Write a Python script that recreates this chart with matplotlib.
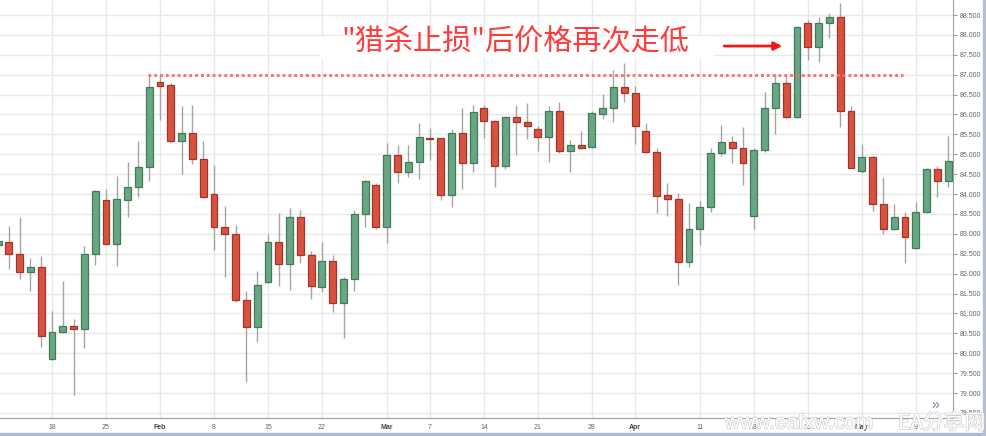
import matplotlib
matplotlib.use('Agg')
import matplotlib.pyplot as plt
import matplotlib.patheffects as pe
from matplotlib.patches import Rectangle
import numpy as np
import pandas as pd

plt.rcParams['font.family'] = ['Liberation Sans', 'Noto Sans CJK SC', 'DejaVu Sans']

# daily candles, 11 Jan - 12 May
dates = pd.bdate_range('2016-01-11', '2016-05-12')

opens = [82.72, 82.80, 82.49, 82.04, 82.16, 79.85, 80.53, 80.68, 80.62, 82.49,
         83.85, 82.75, 83.86, 84.18, 84.69, 86.82, 86.74, 85.34, 85.54, 84.89,
         84.00, 83.17, 82.99, 81.34, 80.65, 81.79, 82.80, 82.25, 83.43, 82.48,
         81.67, 82.32, 81.26, 81.86, 83.49, 84.24, 83.18, 84.99, 84.56, 84.80,
         85.42, 85.40, 83.98, 85.54, 84.77, 86.16, 85.84, 84.71, 85.93, 85.82,
         85.63, 85.44, 86.10, 85.08, 85.23, 85.19, 86.02, 86.16, 86.68, 86.55,
         85.58, 85.06, 83.97, 83.87, 82.29, 83.12, 83.68, 85.03, 85.30, 85.15,
         83.46, 85.10, 86.16, 86.78, 85.93, 88.31, 87.69, 88.31, 88.44, 86.10,
         84.59, 84.92, 83.75, 83.12, 83.43, 82.65, 83.55, 84.62, 84.33]
highs = [82.95, 83.21, 83.42, 82.39, 82.45, 81.07, 81.82, 80.86, 82.70, 84.10,
         84.13, 84.45, 84.80, 85.33, 86.99, 86.99, 86.78, 86.21, 86.23, 85.33,
         84.73, 83.70, 83.22, 81.57, 82.06, 83.00, 83.52, 83.66, 83.60, 82.57,
         82.80, 82.47, 81.92, 83.60, 84.35, 84.28, 85.28, 85.23, 85.24, 85.78,
         85.66, 85.42, 85.63, 86.16, 86.24, 86.24, 85.87, 85.96, 86.24, 86.28,
         85.71, 86.21, 86.31, 85.36, 85.59, 86.10, 86.52, 87.12, 87.30, 86.72,
         85.78, 85.15, 84.29, 84.04, 83.78, 83.83, 85.15, 85.74, 85.46, 85.69,
         85.15, 86.56, 87.03, 86.97, 88.23, 88.37, 88.46, 88.56, 88.81, 86.21,
         85.26, 84.96, 84.44, 83.75, 83.55, 83.80, 84.65, 84.71, 85.46]
lows = [82.60, 82.12, 81.86, 81.57, 80.17, 79.82, 80.50, 78.95, 80.14, 82.22,
        82.74, 82.19, 83.43, 83.93, 84.33, 85.86, 85.32, 84.50, 84.76, 83.90,
        82.59, 81.92, 81.28, 79.29, 80.29, 81.76, 81.70, 81.59, 82.28, 81.37,
        81.53, 81.05, 80.38, 81.57, 83.17, 83.12, 82.78, 84.27, 84.42, 84.38,
        84.86, 83.85, 83.67, 84.12, 84.55, 85.40, 84.19, 84.62, 84.98, 85.38,
        85.09, 84.81, 85.03, 84.56, 85.14, 85.17, 85.88, 85.82, 86.32, 85.26,
        85.04, 83.53, 83.45, 81.72, 82.18, 82.72, 83.56, 84.96, 84.77, 84.23,
        83.12, 85.05, 85.50, 85.92, 85.91, 87.37, 87.31, 87.91, 85.68, 84.65,
        84.54, 83.58, 83.00, 83.10, 82.26, 82.63, 83.52, 83.93, 84.19]
closes = [82.82, 82.49, 82.04, 82.16, 80.44, 80.53, 80.68, 80.62, 82.49, 84.08,
          82.75, 83.88, 84.18, 84.69, 86.68, 86.72, 85.34, 85.54, 84.88, 83.92,
          83.17, 82.99, 81.34, 80.65, 81.71, 82.80, 82.25, 83.43, 82.48, 81.69,
          82.32, 81.26, 81.86, 83.49, 84.33, 83.18, 84.99, 84.56, 84.80, 85.43,
          85.39, 83.98, 85.54, 84.77, 86.06, 85.84, 84.71, 85.93, 85.82, 85.71,
          85.44, 86.10, 85.08, 85.23, 85.16, 86.03, 86.16, 86.68, 86.55, 85.72,
          85.06, 83.96, 83.87, 82.29, 83.13, 83.68, 85.03, 85.30, 85.16, 84.79,
          85.10, 86.16, 86.78, 85.93, 88.21, 87.69, 88.31, 88.44, 86.10, 84.66,
          84.92, 83.75, 83.12, 83.43, 82.91, 83.55, 84.62, 84.33, 84.82]

tick_dates = ['2016-01-18', '2016-01-25', '2016-02-01', '2016-02-08', '2016-02-15',
              '2016-02-22', '2016-03-01', '2016-03-07', '2016-03-14', '2016-03-21',
              '2016-03-28', '2016-04-01', '2016-04-11', '2016-04-18', '2016-04-25',
              '2016-05-02', '2016-05-09']
tick_labels = ['18', '25', 'Feb', '8', '15', '22', 'Mar', '7', '14', '21', '28',
               'Apr', '11', '18', '25', 'May', '9']
months = ['Feb', 'Mar', 'Apr', 'May']

price_ticks = np.arange(78.5, 88.51, 0.5)
stop_level = 87.0
note = '"猎杀止损"后价格再次走低'

UP, UP_EDGE = '#6aa584', '#3f7d5a'
DOWN, DOWN_EDGE = '#d8533f', '#a3342a'


def main():
    o = np.array(opens)
    h = np.array(highs)
    l = np.array(lows)
    c = np.array(closes)
    x = np.arange(len(dates))
    up = c >= o

    fig = plt.figure(figsize=(9.86, 4.36), dpi=100)
    ax = fig.add_axes([0, 18 / 436, 953 / 986, 418 / 436])

    ax.vlines(x, l, h, color='#a5a5a5', lw=1, zorder=2)
    bottom = np.minimum(o, c)
    height = np.maximum(np.abs(c - o), 0.025)
    ax.bar(x[up], height[up], bottom=bottom[up], width=0.64,
           color=UP, edgecolor=UP_EDGE, lw=0.9, zorder=3)
    ax.bar(x[~up], height[~up], bottom=bottom[~up], width=0.64,
           color=DOWN, edgecolor=DOWN_EDGE, lw=0.9, zorder=3)

    ax.set_xlim(0.18, 88.45)
    ax.set_ylim(78.374, 88.877)

    # axes / grid
    pos = [dates.get_loc(pd.Timestamp(d)) for d in tick_dates]
    ax.set_xticks(pos)
    ax.set_xticklabels(tick_labels)
    for t in ax.get_xticklabels():
        if t.get_text() in months:
            t.set_fontweight('bold')
            t.set_color('#444444')
        else:
            t.set_color('#666666')
    ax.tick_params(axis='x', length=0, pad=4, labelsize=5)

    ax.yaxis.tick_right()
    ax.set_yticks(price_ticks)
    ax.set_yticklabels(['%.3f' % v for v in price_ticks])
    ax.tick_params(axis='y', length=3, width=0.8, color='#999999', pad=2,
                   labelsize=5, labelcolor='#666666')

    ax.grid(True, color='#e9e9e9', lw=1, zorder=0)
    ax.set_axisbelow(True)
    for s in ['top', 'left']:
        ax.spines[s].set_visible(False)
    ax.spines['right'].set_color('#a0a0a0')
    ax.spines['bottom'].set_color('#a0a0a0')

    # stop-hunt level
    ax.hlines(stop_level, 13.9, 83.8, color='#ff6a6a', lw=2,
              linestyles=(0, (1, 1.1)), zorder=4)

    # note with white backing
    ax.add_patch(Rectangle((320 / 953, 1 - 58 / 418), 393 / 953, 22 / 418,
                           transform=ax.transAxes, color='white', zorder=1))
    ax.text(31.8, 87.83, note, fontsize=21, color='#ff3b3b', ha='left', va='center',
            family=['Noto Sans CJK SC', 'DejaVu Sans'], zorder=5)
    ax.annotate('', xy=(72.9, 87.72), xytext=(67.0, 87.72),
                arrowprops=dict(arrowstyle='-|>', color='#ee1a1a', lw=2,
                                mutation_scale=12), zorder=5)

    # chrome around the chart
    fig.patches.append(Rectangle((0, 0), 1, 3 / 436, transform=fig.transFigure,
                                 color='#aeb9cb', zorder=0))
    fig.patches.append(Rectangle((983 / 986, 0), 3 / 986, 1, transform=fig.transFigure,
                                 color='#b4bfd0', zorder=0))
    fig.text(935 / 986, 31 / 436, '»', fontsize=10, color='#6f86a8', ha='center', va='center')

    wm = [pe.withStroke(linewidth=1.0, foreground='#cfcfcf')]
    fig.text(725 / 986, 13 / 436, 'www.eafxw.com', fontsize=15, color='white',
             ha='left', va='center', path_effects=wm)
    fig.text(898 / 986, 13 / 436, 'EA分享网', fontsize=15, color='white',
             ha='left', va='center', family=['Noto Sans CJK SC', 'DejaVu Sans'],
             path_effects=wm)

    fig.savefig('out.png', dpi=100)


if __name__ == "__main__":
    main()
